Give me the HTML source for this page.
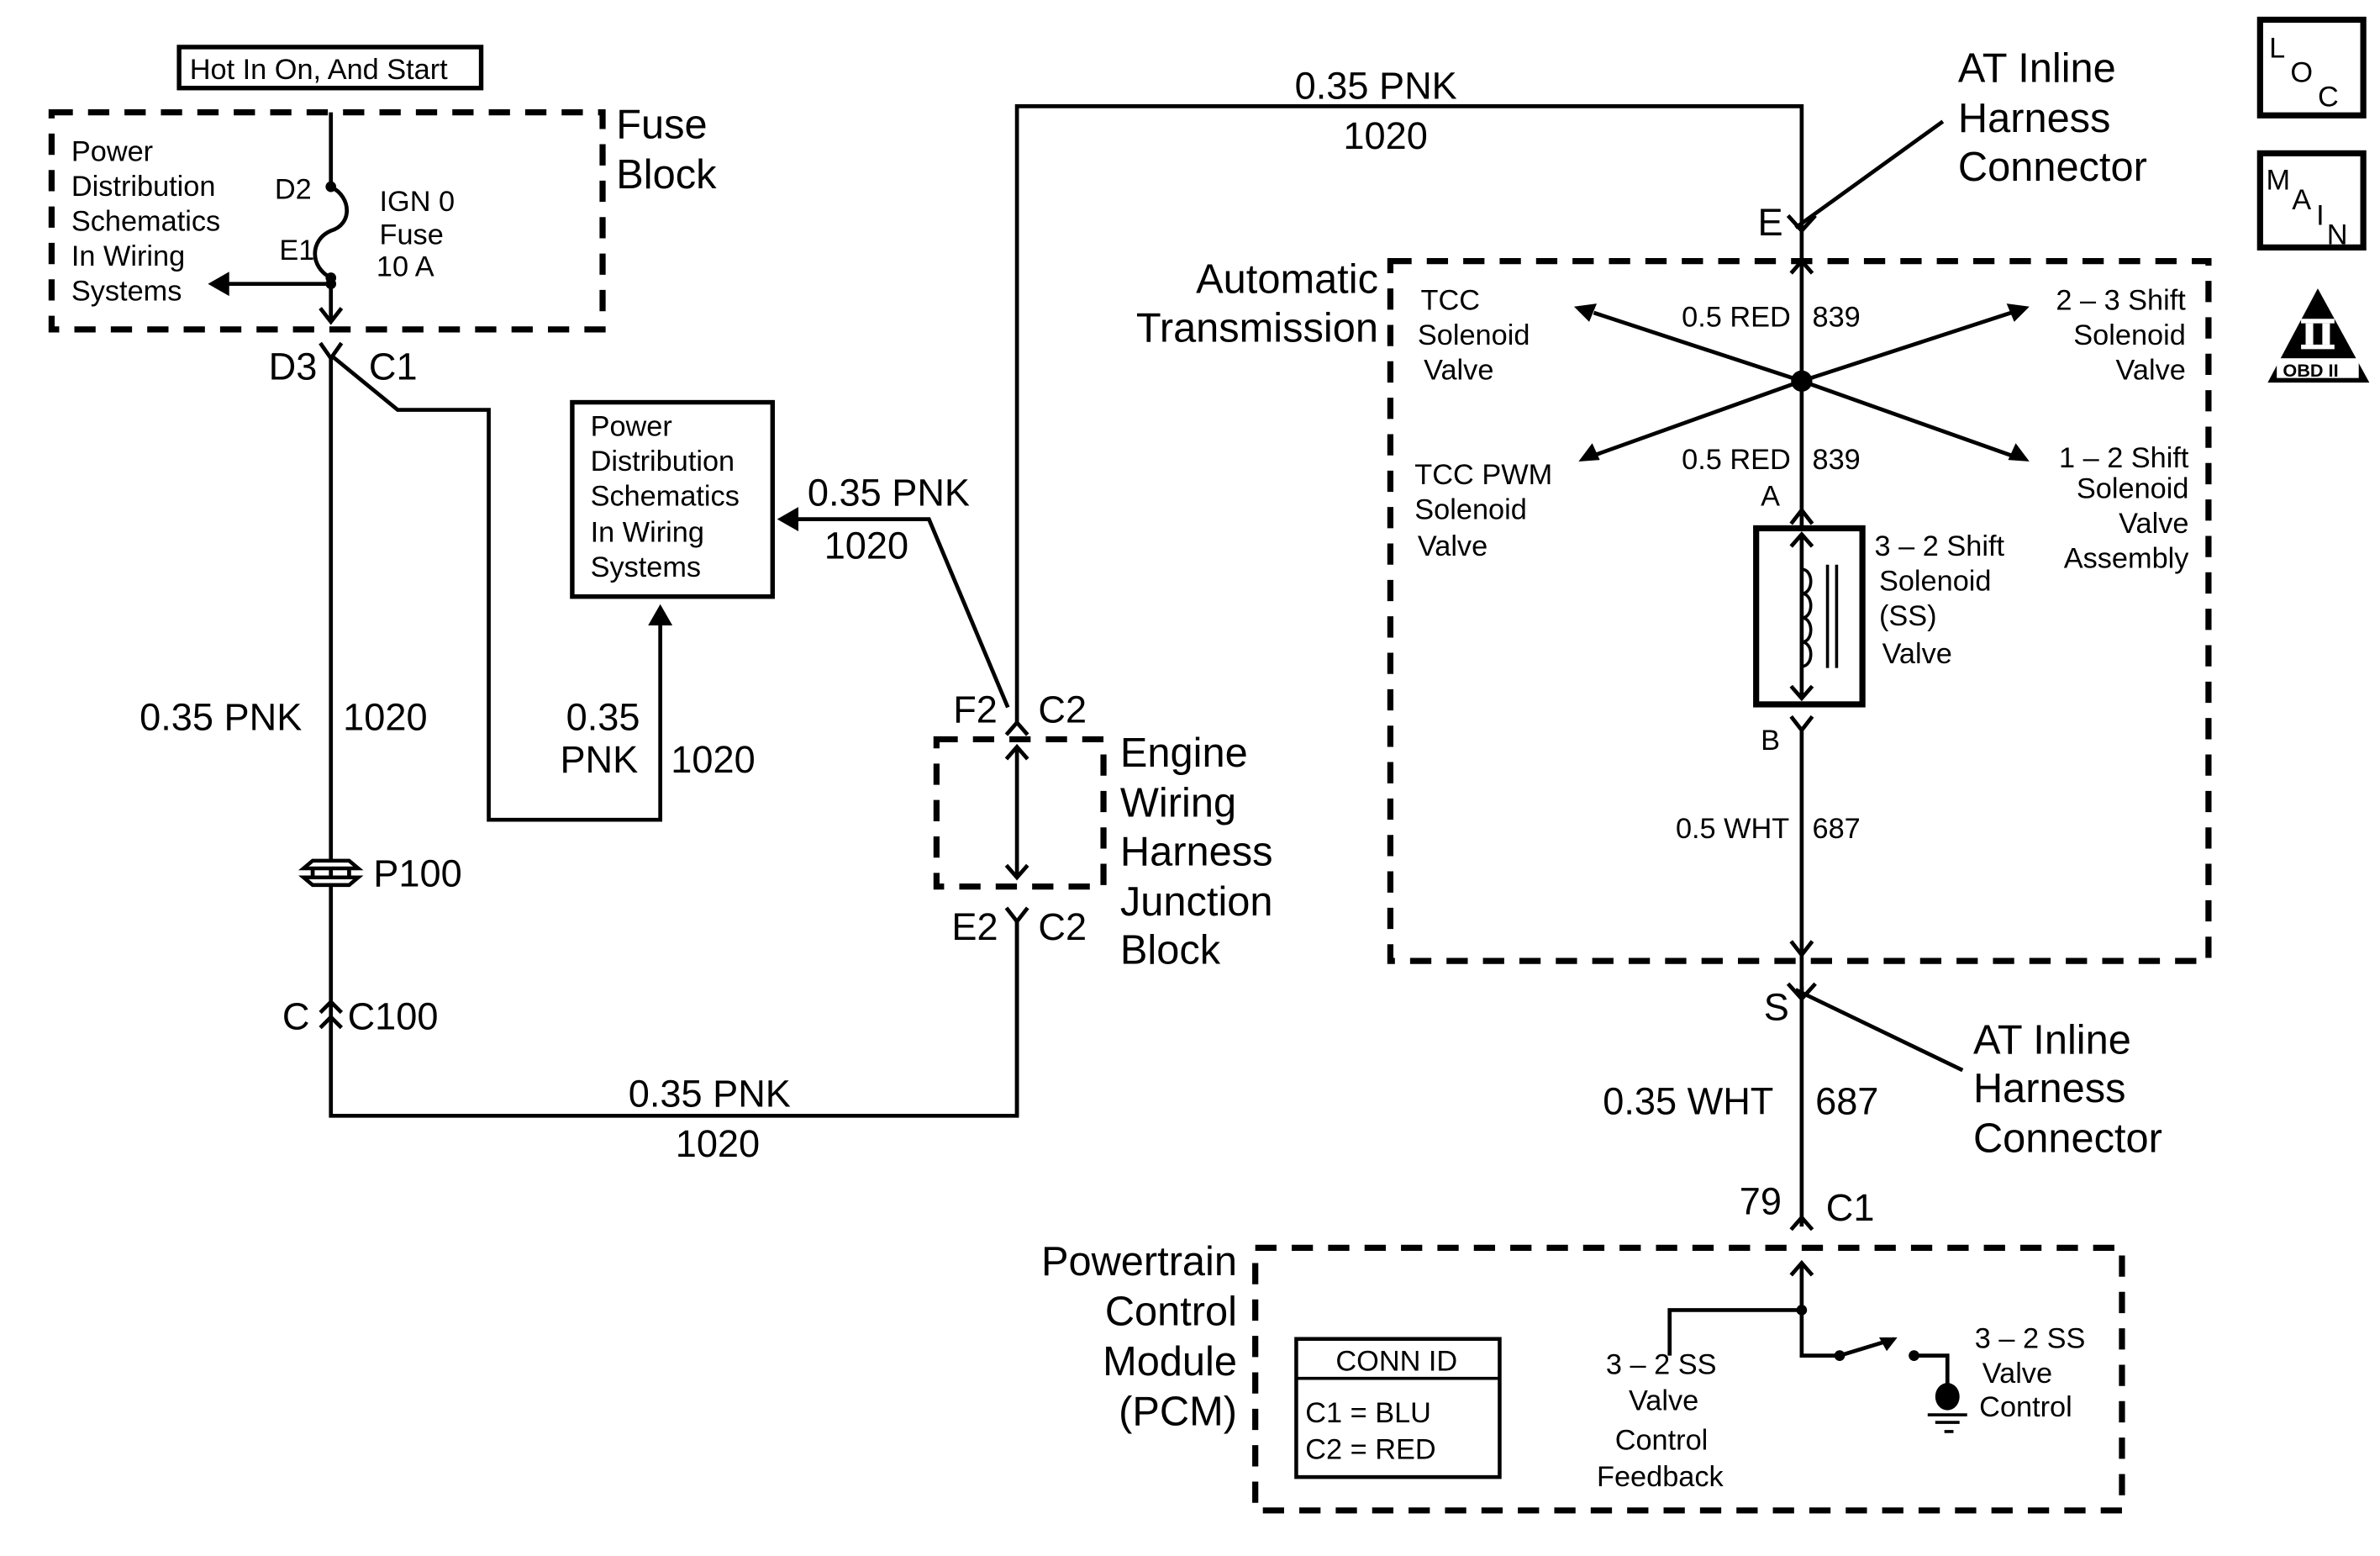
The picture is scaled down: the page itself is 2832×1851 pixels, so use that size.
<!DOCTYPE html>
<html><head><meta charset="utf-8"><style>
html,body{margin:0;padding:0;background:#fff;}
svg{display:block;}
text{font-family:"Liberation Sans",sans-serif;fill:#000;}
.s{font-size:19px;}
.m{font-size:25px;}
.l{font-size:27px;}
</style></head><body>
<svg width="2832" height="1851" viewBox="0 0 1568 1025" preserveAspectRatio="none" xmlns="http://www.w3.org/2000/svg">
<g fill="none" stroke="#000" stroke-width="2.6">
<!-- Hot box -->
<rect x="118" y="31" width="199" height="27" stroke-width="3"/>
<!-- fuse block -->
<rect x="34" y="74" width="363" height="143" stroke-width="4" stroke-dasharray="14 10"/>
<path d="M218 74V123 C232 130 232 148 218 152 C204 158 204 176 218 183 V212"/>
<path d="M211 203l7 9 7-9"/>
<path d="M218 187H150"/>
<!-- D3 connector -->
<path d="M211 226l7 10 7-10"/>
<path d="M218 234V735H670V605"/>
<path d="M218 234L262 270H322V540H435V410"/>
<!-- P100 -->
<path d="M200 572l6-5h24l6 5zM200 578l6 5h24l6-5z" fill="#fff" stroke-width="2.5"/>
<path d="M206 572v6M230 572v6"/>
<!-- C100 -->
<path d="M211 667l7-7 7 7M211 677l7-7 7 7"/>
<!-- PD box 2 -->
<rect x="377" y="265" width="132" height="128" stroke-width="3"/>
<!-- F2 wire -->
<path d="M664 466L612 342H525"/>
<path d="M663 484l7-8 7 8"/>
<path d="M670 476V70H1187V150"/>
<!-- engine block -->
<rect x="617" y="487" width="110" height="97" stroke-width="4" stroke-dasharray="14 10"/>
<path d="M670 492V578M663 500l7-8 7 8M663 570l7 8 7-8"/>
<path d="M663 598l7 9 7-9M670 607V735"/>
<!-- AT -->
<path d="M1178 142l9 10 9-10"/>
<path d="M1183 150L1280 80"/>
<rect x="916" y="172" width="539" height="461" stroke-width="4" stroke-dasharray="14 10"/>
<path d="M1187 152V347"/>
<path d="M1180 180l7-8 7 8"/>
<path d="M1187 251L1050 206M1187 251L1325 206M1187 251L1050 300M1187 251L1325 300"/>
<path d="M1180 345l7-9 7 9"/>
<rect x="1157" y="348" width="70" height="116" stroke-width="4"/>
<path d="M1187 352V460M1180 360l7-8 7 8M1180 452l7 8 7-8"/>
<path d="M1187 375c8 0 8 16 0 16c8 0 8 16 0 16c8 0 8 16 0 16c8 0 8 16 0 16" stroke-width="2"/>
<path d="M1204 372V440M1210 372V440" stroke-width="2"/>
<path d="M1180 472l7 9 7-9M1187 481V655"/>
<path d="M1180 620l7 9 7-9"/>
<path d="M1178 648l9 10 9-10M1187 650V808"/>
<path d="M1183 652L1293 705"/>
<path d="M1180 810l7-8 7 8"/>
<!-- PCM -->
<rect x="827" y="822" width="571" height="173" stroke-width="4" stroke-dasharray="14 10"/>
<path d="M1187 832V893H1212M1180 840l7-8 7 8"/>
<path d="M1187 863H1100V893"/>
<path d="M1212 893L1248 882"/>
<path d="M1261 893H1283V913"/>
<path d="M1270 932H1296M1275 937H1291M1281 943H1287" stroke-width="2"/>
<rect x="854" y="882" width="134" height="91" stroke-width="2.5"/>
<path d="M854 908H988" stroke-width="2"/>
<!-- icons -->
<rect x="1489" y="13" width="68" height="63" stroke-width="4"/>
<rect x="1489" y="101" width="68" height="62" stroke-width="4"/>
</g>
<g fill="#000">
<circle cx="218" cy="123" r="3.5"/><circle cx="218" cy="183" r="3.5"/><circle cx="218" cy="187" r="3.5"/>
<path d="M137 187l14-8v16z"/>
<path d="M435 398l-8 14h16z"/>
<path d="M512 342l14-8v16z"/>
<circle cx="1187" cy="251" r="7"/>
<path d="M1037 202l15-2-5 12zM1337 202l-15-2 5 12zM1040 304l9-12 5 11zM1337 304l-9-12-5 11z"/>
<circle cx="1187" cy="863" r="3.5"/><circle cx="1212" cy="893" r="3.5"/><circle cx="1261" cy="893" r="3.5"/>
<path d="M1250 881l-12 0 5 9z"/>
<ellipse cx="1283" cy="920" rx="8" ry="9"/>
<path d="M1527 190L1561 252H1494Z"/>
</g>
<g fill="#fff"><rect x="1516" y="210" width="22" height="3"/><rect x="1519" y="213" width="5" height="14"/><rect x="1530" y="213" width="5" height="14"/><rect x="1516" y="227" width="22" height="3"/><rect x="1500" y="236" width="54" height="13"/></g>
<text x="1504" y="248" style="font-size:12px;font-weight:bold">OBD II</text>
<text x="1495" y="38" class="s">L</text><text x="1509" y="54" class="s">O</text><text x="1527" y="70" class="s">C</text>
<text x="1493" y="125" class="s">M</text><text x="1510" y="138" class="s">A</text><text x="1526" y="148" class="s">I</text><text x="1533" y="161" class="s">N</text>

<text x="125" y="52" class="s">Hot In On, And Start</text>
<text x="406" y="91" class="l">Fuse</text><text x="406" y="124" class="l">Block</text>
<text x="47" y="106" class="s">Power</text><text x="47" y="129" class="s">Distribution</text><text x="47" y="152" class="s">Schematics</text><text x="47" y="175" class="s">In Wiring</text><text x="47" y="198" class="s">Systems</text>
<text x="181" y="131" class="s">D2</text><text x="184" y="171" class="s">E1</text>
<text x="250" y="139" class="s">IGN 0</text><text x="250" y="161" class="s">Fuse</text><text x="248" y="182" class="s">10 A</text>
<text x="177" y="250" class="m">D3</text><text x="243" y="250" class="m">C1</text>
<text x="389" y="287" class="s">Power</text><text x="389" y="310" class="s">Distribution</text><text x="389" y="333" class="s">Schematics</text><text x="389" y="357" class="s">In Wiring</text><text x="389" y="380" class="s">Systems</text>
<text x="532" y="333" class="m">0.35 PNK</text><text x="543" y="368" class="m">1020</text>
<text x="92" y="481" class="m">0.35 PNK</text><text x="226" y="481" class="m">1020</text>
<text x="373" y="481" class="m">0.35</text><text x="369" y="509" class="m">PNK</text><text x="442" y="509" class="m">1020</text>
<text x="246" y="584" class="m">P100</text>
<text x="186" y="678" class="m">C</text><text x="229" y="678" class="m">C100</text>
<text x="414" y="729" class="m">0.35 PNK</text><text x="445" y="762" class="m">1020</text>
<text x="628" y="476" class="m">F2</text><text x="684" y="476" class="m">C2</text>
<text x="627" y="619" class="m">E2</text><text x="684" y="619" class="m">C2</text>
<text x="738" y="505" class="l">Engine</text><text x="738" y="538" class="l">Wiring</text><text x="738" y="570" class="l">Harness</text><text x="738" y="603" class="l">Junction</text><text x="738" y="635" class="l">Block</text>
<text x="853" y="65" class="m">0.35 PNK</text><text x="885" y="98" class="m">1020</text>
<text x="1290" y="54" class="l">AT Inline</text><text x="1290" y="87" class="l">Harness</text><text x="1290" y="119" class="l">Connector</text>
<text x="1158" y="155" class="m">E</text>
<text x="908" y="193" class="l" text-anchor="end">Automatic</text><text x="908" y="225" class="l" text-anchor="end">Transmission</text>
<text x="1108" y="215" class="s">0.5 RED</text><text x="1194" y="215" class="s">839</text>
<text x="1108" y="309" class="s">0.5 RED</text><text x="1194" y="309" class="s">839</text>
<text x="936" y="204" class="s">TCC</text><text x="934" y="227" class="s">Solenoid</text><text x="938" y="250" class="s">Valve</text>
<text x="932" y="319" class="s">TCC PWM</text><text x="932" y="342" class="s">Solenoid</text><text x="934" y="366" class="s">Valve</text>
<text x="1440" y="204" class="s" text-anchor="end">2 – 3 Shift</text><text x="1440" y="227" class="s" text-anchor="end">Solenoid</text><text x="1440" y="250" class="s" text-anchor="end">Valve</text>
<text x="1442" y="308" class="s" text-anchor="end">1 – 2 Shift</text><text x="1442" y="328" class="s" text-anchor="end">Solenoid</text><text x="1442" y="351" class="s" text-anchor="end">Valve</text><text x="1442" y="374" class="s" text-anchor="end">Assembly</text>
<text x="1160" y="333" class="s">A</text><text x="1160" y="494" class="s">B</text>
<text x="1235" y="366" class="s">3 – 2 Shift</text><text x="1238" y="389" class="s">Solenoid</text><text x="1238" y="412" class="s">(SS)</text><text x="1240" y="437" class="s">Valve</text>
<text x="1104" y="552" class="s">0.5 WHT</text><text x="1194" y="552" class="s">687</text>
<text x="1162" y="672" class="m">S</text>
<text x="1300" y="694" class="l">AT Inline</text><text x="1300" y="726" class="l">Harness</text><text x="1300" y="759" class="l">Connector</text>
<text x="1056" y="734" class="m">0.35 WHT</text><text x="1196" y="734" class="m">687</text>
<text x="1146" y="800" class="m">79</text><text x="1203" y="804" class="m">C1</text>
<text x="815" y="840" class="l" text-anchor="end">Powertrain</text><text x="815" y="873" class="l" text-anchor="end">Control</text><text x="815" y="906" class="l" text-anchor="end">Module</text><text x="815" y="939" class="l" text-anchor="end">(PCM)</text>
<text x="880" y="903" class="s">CONN ID</text><text x="860" y="937" class="s">C1 = BLU</text><text x="860" y="961" class="s">C2 = RED</text>
<text x="1058" y="905" class="s">3 – 2 SS</text><text x="1073" y="929" class="s">Valve</text><text x="1064" y="955" class="s">Control</text><text x="1052" y="979" class="s">Feedback</text>
<text x="1301" y="888" class="s">3 – 2 SS</text><text x="1306" y="911" class="s">Valve</text><text x="1304" y="933" class="s">Control</text>
</svg>
</body></html>
